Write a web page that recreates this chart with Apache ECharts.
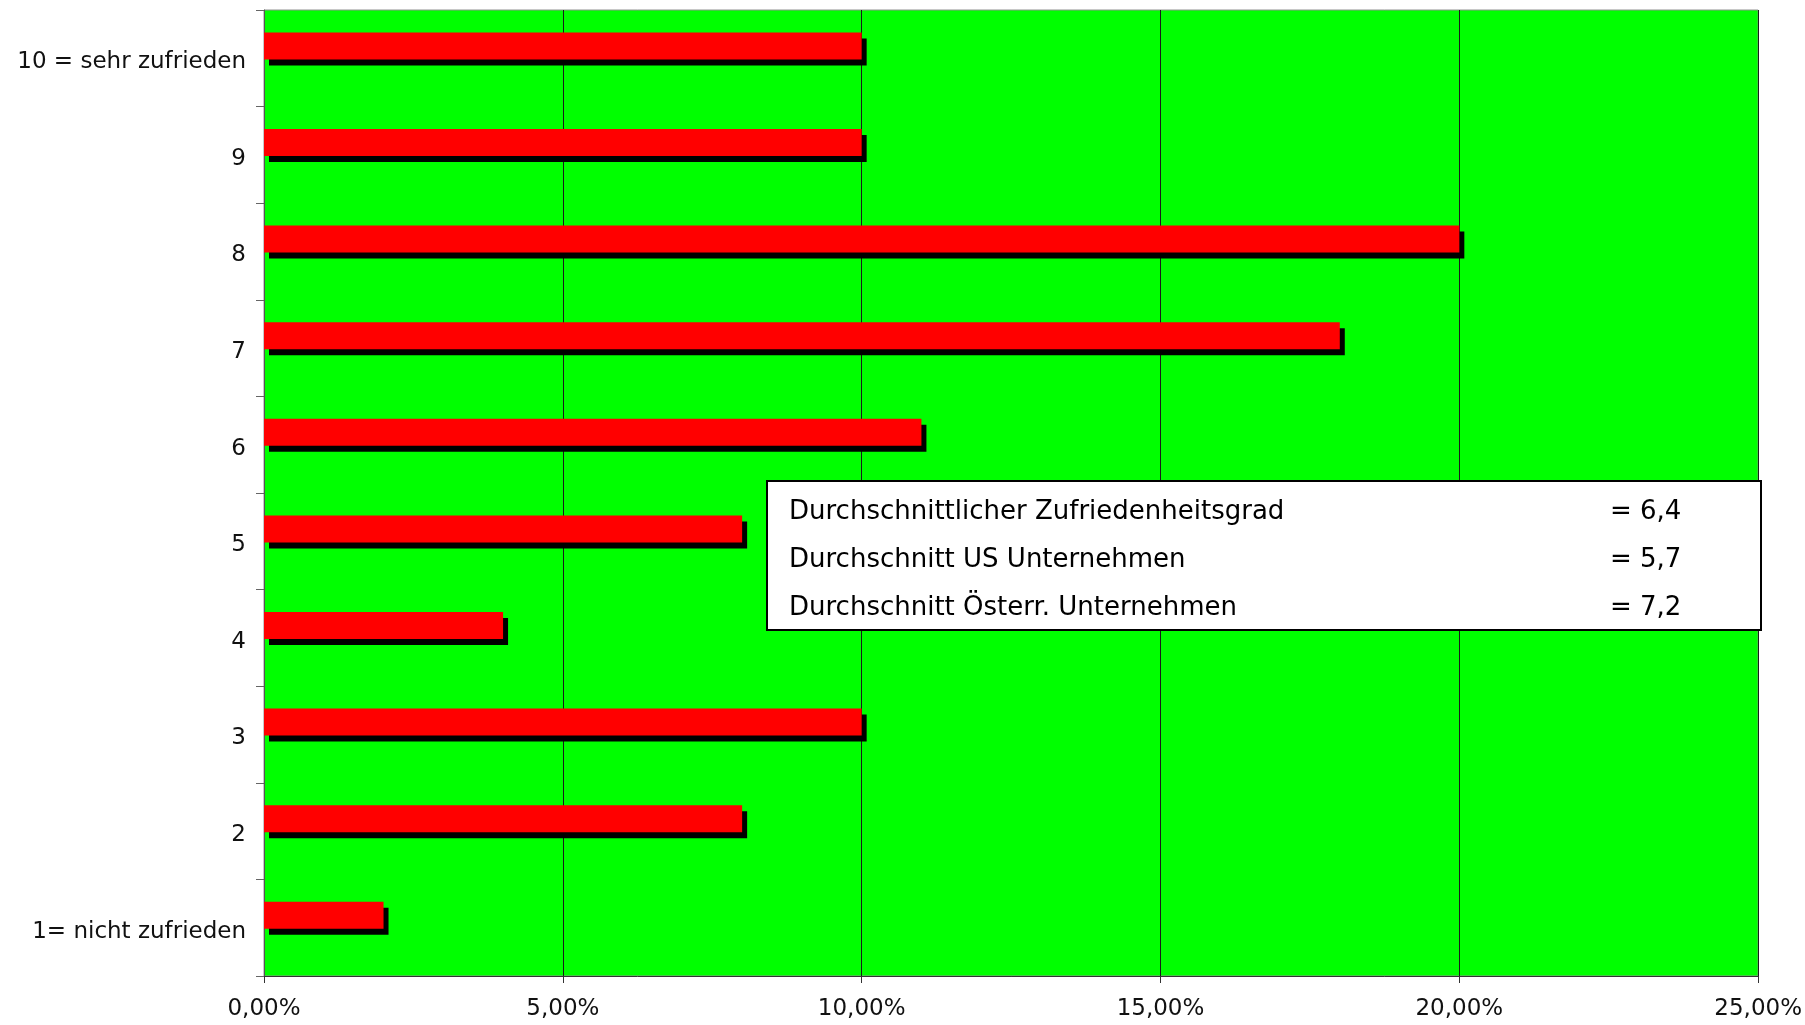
<!DOCTYPE html>
<html>
<head>
<meta charset="utf-8">
<script src="https://cdn.jsdelivr.net/npm/echarts@6/dist/echarts.min.js"></script>
<style>
  html, body { margin: 0; padding: 0; background: #fff; }
  #main { width: 1805px; height: 1025px; }
</style>
</head>
<body>
<div id="main"></div>
<script>
// Zufriedenheit (1..10), Anteil in %
const categories = [
  "1= nicht zufrieden", "2", "3", "4", "5",
  "6", "7", "8", "9", "10 = sehr zufrieden",
];
const shares = [2, 8, 10, 4, 8, 11, 18, 20, 10, 10];
const xTicks = [0, 5, 10, 15, 20, 25];

const statLabels = [
  "Durchschnittlicher Zufriedenheitsgrad",
  "Durchschnitt US Unternehmen",
  "Durchschnitt Österr. Unternehmen",
];
const statValues = ["= 6,4", "= 5,7", "= 7,2"];

const font = "DejaVu Sans";

let option;

const boxX = 767, boxY = 481, boxW = 994, boxH = 149;
const statText = [];
statLabels.forEach(function (t, i) {
  statText.push({
    type: "text",
    z: 101,
    x: 789 - boxX,
    y: 512 - boxY + i * 48,
    style: { text: t, font: "26px '" + font + "'", fill: "#000", verticalAlign: "middle" },
  });
  statText.push({
    type: "text",
    z: 101,
    x: 1610 - boxX,
    y: 512 - boxY + i * 48,
    style: { text: statValues[i], font: "26px '" + font + "'", fill: "#000", verticalAlign: "middle" },
  });
});

option = {
  animation: false,
  backgroundColor: "#fff",
  grid: {
    left: 264,
    right: 43,
    top: 10,
    bottom: 49,
    show: true,
    backgroundColor: "#00ff00",
    borderColor: "#909090",
    borderWidth: 1,
  },
  xAxis: {
    type: "value",
    min: xTicks[0],
    max: xTicks[xTicks.length - 1],
    interval: 5,
    axisLine: { show: true, lineStyle: { color: "#333", width: 1 } },
    axisTick: { show: true, length: 7, lineStyle: { color: "#333" } },
    splitLine: { show: true, lineStyle: { color: "#1a1a1a", width: 1 } },
    axisLabel: {
      margin: 22,
      color: "#111",
      fontFamily: font,
      fontSize: 23,
      formatter: function (v) {
        return v.toFixed(2).replace(".", ",") + "%";
      },
    },
  },
  yAxis: {
    type: "category",
    data: categories,
    axisLine: { show: true, lineStyle: { color: "#555", width: 1 } },
    axisTick: { show: true, length: 8, alignWithLabel: false, lineStyle: { color: "#666" } },
    axisLabel: {
      margin: 18,
      formatter: function (v) {
        return "{t|" + v + "}";
      },
      rich: {
        t: {
          padding: [8, 0, 0, 0],
          color: "#111",
          fontFamily: font,
          fontSize: 23,
        },
      },
    },
  },
  series: [
    {
      name: "Anteil",
      type: "bar",
      data: shares,
      barWidth: 27,
      barGap: "-8%",
      itemStyle: {
        color: "#ff0000",
        borderWidth: 0,
        shadowColor: "#000",
        shadowBlur: 0,
        shadowOffsetX: 5,
        shadowOffsetY: 6,
      },
    },
    {
      // leere Reihe, nur damit die Balken wie im Original oben im Band sitzen
      name: "platz",
      type: "bar",
      data: [],
      barWidth: 27,
      silent: true,
    },
  ],
  graphic: [
    {
      type: "group",
      x: boxX,
      y: boxY,
      z: 100,
      children: [
        {
          type: "rect",
          z: 100,
          shape: { x: 0, y: 0, width: boxW, height: boxH },
          style: { fill: "#fff", stroke: "#000", lineWidth: 2 },
        },
      ].concat(statText),
    },
  ],
};

let chartDom = document.getElementById("main");
let myChart = echarts.init(chartDom);
option && myChart.setOption(option);
</script>
</body>
</html>
